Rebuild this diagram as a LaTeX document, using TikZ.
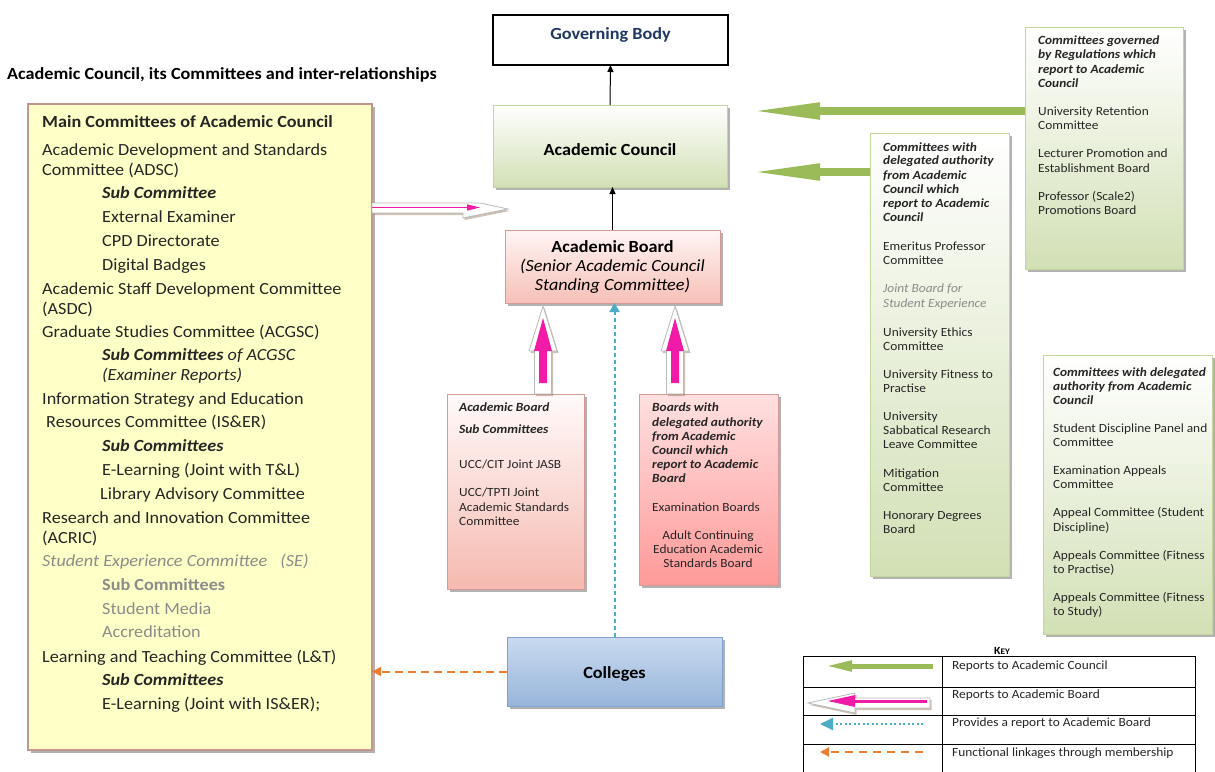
\documentclass[tikz,border=0pt]{standalone}
\usepackage{fontspec}
\setmainfont{Carlito}[FakeStretch=1.07]
\usetikzlibrary{arrows.meta,shadows}
\definecolor{gbblue}{HTML}{1F3864}
\definecolor{grn}{HTML}{9BBB59}
\definecolor{grnbd}{HTML}{C3D69B}
\definecolor{grnlo}{HTML}{D2E0B5}
\definecolor{mag}{HTML}{F21BA8}
\definecolor{teal}{HTML}{4BACC6}
\definecolor{orng}{HTML}{ED7D31}
\definecolor{txt}{HTML}{262626}
\definecolor{gtx}{HTML}{8C8C8C}
\definecolor{yel}{HTML}{FFFFC8}
\definecolor{yelbd}{HTML}{C4958F}
\definecolor{pkbd}{HTML}{D49A98}
\definecolor{blbd}{HTML}{7FA2CE}
\definecolor{bltop}{HTML}{C9DAF0}
\definecolor{blbot}{HTML}{98B5DA}
\newcommand\fL{\fontsize{17}{20}\selectfont}
\newcommand\fS{\fontsize{12.5}{14}\selectfont}
\newcommand\bfit[1]{\textbf{\textit{#1}}}
\begin{document}
\begin{tikzpicture}[x=1pt,y=-1pt,
  shd/.style={drop shadow={shadow xshift=2.5pt,shadow yshift=-2.5pt,fill=black,opacity=0.3}},
  box/.style={rectangle,inner sep=0,outer sep=0},
  grbox/.style={box,shd,draw=grnbd,line width=1pt,top color=white,bottom color=grnlo},
  lt/.style={anchor=base west,inner sep=0,font=\fL,text=txt},
  st/.style={anchor=base west,inner sep=0,font=\fS,text=txt},
  stc/.style={anchor=base,inner sep=0,font=\fS,text=txt},
  hol/.style={fill=white,draw=gray!55,line width=0.8pt,drop shadow={shadow xshift=1.5pt,shadow yshift=-2pt,fill=brown!60!black,opacity=0.35}},
  magf/.style={fill=mag,draw=none},
  grarrow/.style={line width=8pt,grn,-{Triangle[length=73pt,width=15pt]}},
  tealarrow/.style={teal,line width=2pt,dash pattern=on 4pt off 3pt,-{Triangle[length=9pt,width=10pt]}},
  orarrow/.style={orng,line width=2pt,dash pattern=on 8pt off 5pt,-{Triangle[length=9pt,width=9pt]}}]
\fill[white] (0,0) rectangle (1215,771);
\useasboundingbox (0,0) rectangle (1215,771);

% title
\node[anchor=base west,inner sep=0,font=\fL\bfseries] (title) at (7,79.5) {Academic Council, its Committees and inter-relationships};

% main boxes
\node[box,draw=black,line width=2.5pt,fill=white,minimum width=235,minimum height=50] (gb) at (610.5,40) {};
\node[anchor=base,inner sep=0,font=\fL\bfseries,text=gbblue] (gbt) at (610.5,39) {Governing Body};

\node[grbox,minimum width=234,minimum height=82] (ac) at (610,146) {};
\node[anchor=base,inner sep=0,font=\fL\bfseries] (act) at (610,155.5) {Academic Council};

\node[box,shd,draw=pkbd,line width=1pt,top color=red!4,bottom color=red!55!brown!32,minimum width=215,minimum height=73] (ab) at (612.5,266.5) {};
\node[anchor=base,inner sep=0,font=\fL\bfseries] (abt1) at (612.5,252) {Academic Board};
\node[anchor=base,inner sep=0,font=\fL\itshape] (abt2) at (612.5,271.5) {(Senior Academic Council};
\node[anchor=base,inner sep=0,font=\fL\itshape] (abt3) at (612.5,290.5) {Standing Committee)};

\node[box,shd,draw=pkbd,line width=1pt,top color=red!2,bottom color=red!55!brown!35,minimum width=137,minimum height=195] (sb1) at (515.5,491.5) {};
\node[box,shd,draw=pkbd,line width=1pt,top color=red!12,bottom color=red!40,minimum width=139,minimum height=191] (sb2) at (708.5,489.5) {};

\node[box,shd,draw=blbd,line width=1pt,top color=bltop,bottom color=blbot,minimum width=215,minimum height=69] (col) at (614.5,671.5) {};
\node[anchor=base,inner sep=0,font=\fL\bfseries] (colt) at (614.5,678) {Colleges};

% left box
\node[box,shd,draw=yelbd,line width=1.3pt,fill=yel,minimum width=344,minimum height=646] (lb) at (200,427) {};
\foreach \xx/\yy/\tx [count=\i] in {
 42/122/{\textbf{Main Committees of Academic Council}},
 42/150/{Academic Development and Standards},
 42/170/{Committee (ADSC)},
 102/193/{\bfit{Sub Committee}},
 102/217/{External Examiner},
 102/241/{CPD Directorate},
 102/265/{Digital Badges},
 42/289/{Academic Staff Development Committee},
 42/309/{(ASDC)},
 42/332/{Graduate Studies Committee (ACGSC)},
 102/355/{\bfit{Sub Committees} \textit{of ACGSC}},
 102/375/{\textit{(Examiner Reports)}},
 42/399/{Information Strategy and Education},
 46/422/{Resources Committee (IS\&ER)},
 102/446/{\bfit{Sub Committees}},
 102/470/{E-Learning (Joint with T\&L)},
 100/494/{Library Advisory Committee},
 42/518/{Research and Innovation Committee},
 42/538/{(ACRIC)},
 42/561/{\textcolor{gtx}{\textit{Student Experience Committee\hspace{9pt} (SE)}}},
 102/585/{\textcolor{gtx}{\textbf{Sub Committees}}},
 102/609/{\textcolor{gtx}{Student Media}},
 102/632/{\textcolor{gtx}{Accreditation}},
 42/657/{Learning and Teaching Committee (L\&T)},
 102/680/{\bfit{Sub Committees}},
 102/704/{E-Learning (Joint with IS\&ER);}}
 \node[lt] (L\i) at (\xx,\yy+5.5) {\tx};

% sub box 1
\foreach \yy/\tx [count=\i] in {
 407/{\bfit{Academic Board}},
 429/{\bfit{Sub Committees}},
 464/{UCC/CIT Joint JASB},
 492/{UCC/TPTI Joint},
 507/{Academic Standards},
 521/{Committee}}
 \node[st] (A\i) at (459,\yy+4) {\tx};

% sub box 2
\foreach \yy/\tx [count=\i] in {
 407/{\bfit{Boards with}},
 422/{\bfit{delegated authority}},
 436/{\bfit{from Academic}},
 450/{\bfit{Council which}},
 464/{\bfit{report to Academic}},
 478/{\bfit{Board}},
 507/{Examination Boards}}
 \node[st] (B\i) at (652,\yy+4) {\tx};
\foreach \yy/\tx [count=\i] in {
 535/{Adult Continuing},
 549/{Education Academic},
 563/{Standards Board}}
 \node[stc] (C\i) at (708,\yy+4) {\tx};

% right boxes
\node[grbox,minimum width=158,minimum height=242] (tr) at (1104,148) {};
\node[grbox,minimum width=139,minimum height=443] (mr) at (939.5,354.5) {};
\node[grbox,minimum width=169,minimum height=279] (br) at (1127.5,494.5) {};

\foreach \yy/\tx [count=\i] in {
 40/{\bfit{Committees governed}},
 54/{\bfit{by Regulations which}},
 69/{\bfit{report to Academic}},
 83/{\bfit{Council}},
 111/{University Retention},
 125/{Committee},
 153/{Lecturer Promotion and},
 168/{Establishment Board},
 196/{Professor (Scale2)},
 210/{Promotions Board}}
 \node[st] (R\i) at (1038,\yy+4) {\tx};

\foreach \yy/\tx [count=\i] in {
 147/{\bfit{Committees with}},
 160/{\bfit{delegated authority}},
 175/{\bfit{from Academic}},
 189/{\bfit{Council which}},
 203/{\bfit{report to Academic}},
 217/{\bfit{Council}},
 246/{Emeritus Professor},
 260/{Committee},
 288/{\textcolor{gtx}{\textit{Joint Board for}}},
 303/{\textcolor{gtx}{\textit{Student Experience}}},
 332/{University Ethics},
 346/{Committee},
 374/{University Fitness to},
 388/{Practise},
 416/{University},
 430/{Sabbatical Research},
 444/{Leave Committee},
 473/{Mitigation},
 487/{Committee},
 515/{Honorary Degrees},
 529/{Board}}
 \node[st] (M\i) at (883,\yy+4) {\tx};

\foreach \yy/\tx [count=\i] in {
 372/{\bfit{Committees with delegated}},
 386/{\bfit{authority from Academic}},
 400/{\bfit{Council}},
 428/{Student Discipline Panel and},
 442/{Committee},
 470/{Examination Appeals},
 484/{Committee},
 512/{Appeal Committee (Student},
 527/{Discipline)},
 555/{Appeals Committee (Fitness},
 569/{to Practise)},
 597/{Appeals Committee (Fitness},
 611/{to Study)}}
 \node[st] (S\i) at (1053,\yy+4) {\tx};

% connectors
\draw[black,line width=1pt,-{Triangle[length=7pt,width=6pt]}] (ac.north) -- (gb.south);
\draw[black,line width=1pt,-{Triangle[length=7pt,width=6pt]}] (ab.north) -- (ab.north |- ac.south);
\draw[tealarrow] (col.north) -- (col.north |- ab.south);
\draw[orarrow] (col.west) -- (col.west -| lb.east);

% green arrows
\coordinate (g1) at (747,111);
\coordinate (g2) at (747,172);
\draw[grarrow] (tr.west |- g1) -- (g1);
\draw[grarrow] (mr.west |- g2) -- (g2);

% pink hollow up arrows
\coordinate (pa1) at (sb1.north -| 543,0);
\coordinate (pa2) at (sb2.north -| 675,0);
\foreach \p in {pa1,pa2}{
 \path[hol] (\p) ++(-8.5,0) -- ++(0,-43) -- ++(-5.5,0) -- ++(14,-45) -- ++(14,45) -- ++(-5.5,0) -- ++(0,43) -- cycle;
 \path[magf] (\p) ++(0,-11) ++(-4,0) -- ++(0,-32) -- ++(-5,0) -- ++(9,-33) -- ++(9,33) -- ++(-5,0) -- ++(0,32) -- cycle;
}

% pink hollow right arrow from left box
\coordinate (pt) at (508,209);
\path[hol] (lb.east |- 0,203) -- (480,203) -- (pt) -- (463,218) -- (463,213) -- (lb.east |- 0,213) -- cycle;
\draw[mag,line width=1.3pt,-{Triangle[length=13pt,width=6pt]}] (lb.east |- 0,207.5) -- (480,207.5);

% key
\node[anchor=base,inner sep=0,font=\bfseries\fontsize{11}{11}\selectfont] (keyt) at (1002,654) {K{\fontsize{8.5}{9}\selectfont EY}};
\draw[line width=0.9pt] (803,656) rectangle (1195,785);
\draw[line width=0.9pt] (942,656) -- (942,785);
\draw[line width=0.9pt] (803,687) -- (1195,687);
\draw[line width=0.9pt] (803,715) -- (1195,715);
\draw[line width=0.9pt] (803,744) -- (1195,744);
\coordinate (k1a) at (933,666); \coordinate (k1b) at (825,666);
\draw[grn,line width=5pt,-{Triangle[length=27pt,width=10pt]}] (k1a) -- (k1b);
\coordinate (k2) at (808,703);
\path[hol] (930,698) -- (855,698) -- (855,693) -- (k2) -- (855,713) -- (855,708) -- (930,708) -- cycle;
\draw[mag,line width=3pt,-{Triangle[length=28pt,width=11pt]}] (927,701) -- (827,701);
\coordinate (k3a) at (923,724); \coordinate (k3b) at (820,724);
\draw[teal,line width=2.2pt,dash pattern=on 2pt off 2.5pt,-{Triangle[length=13pt,width=12pt]}] (k3a) -- (k3b);
\coordinate (k4a) at (923,752); \coordinate (k4b) at (820,752);
\draw[orng,line width=2pt,dash pattern=on 8pt off 6pt,-{Triangle[length=9pt,width=9pt]}] (k4a) -- (k4b);
\node[st] (K1) at (952,669) {Reports to Academic Council};
\node[st] (K2) at (952,698) {Reports to Academic Board};
\node[st] (K3) at (952,726) {Provides a report to Academic Board};
\node[st] (K4) at (952,756) {Functional linkages through membership};
\end{tikzpicture}
\end{document}
